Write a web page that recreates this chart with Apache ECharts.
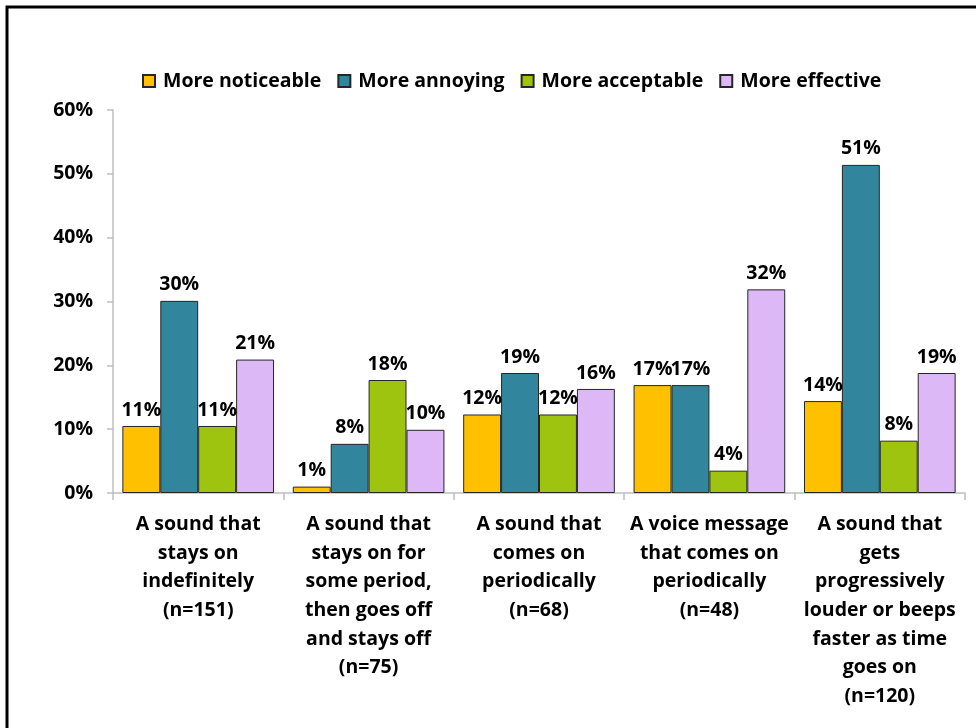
<!DOCTYPE html>
<html>
<head>
<meta charset="utf-8">
<script src="https://cdn.jsdelivr.net/npm/echarts@6/dist/echarts.min.js"></script>
<style>
  html, body { margin: 0; padding: 0; background: #fff; }
  #chart { width: 976px; height: 728px; }
</style>
</head>
<body>
<div id="chart"></div>
<script>
// Alert sound types and how respondents rated each one
const categories = [
  'A sound that\nstays on\nindefinitely\n(n=151)',
  'A sound that\nstays on for\nsome period,\nthen goes off\nand stays off\n(n=75)',
  'A sound that\ncomes on\nperiodically\n(n=68)',
  'A voice message\nthat comes on\nperiodically\n(n=48)',
  'A sound that\ngets\nprogressively\nlouder or beeps\nfaster as time\ngoes on\n(n=120)'
];

const seriesNames = ['More noticeable', 'More annoying', 'More acceptable', 'More effective'];

// Percent of respondents
const moreNoticeable = [10.5, 1.0, 12.3, 16.9, 14.4];
const moreAnnoying   = [30.1, 7.7, 18.8, 16.9, 51.4];
const moreAcceptable = [10.5, 17.7, 12.3, 3.5, 8.2];
const moreEffective  = [20.9, 9.9, 16.3, 31.9, 18.8];

const yTicks = { min: 0, max: 60, interval: 10 };

const colors = ['#FFC000', '#31859C', '#9FC40F', '#DCB9F6'];
const FONT = '"Open Sans", "Noto Sans", sans-serif';

const values = [moreNoticeable, moreAnnoying, moreAcceptable, moreEffective];

const chart = echarts.init(document.getElementById('chart'));

chart.setOption({
  animation: false,
  color: colors,
  textStyle: { fontFamily: FONT },
  graphic: [{
    type: 'rect',
    shape: { x: 7, y: 7, width: 1000, height: 800 },
    style: { fill: 'none', stroke: '#000', lineWidth: 3 },
    z: -1
  }],
  legend: {
    left: 137,
    top: 66,
    itemWidth: 12,
    itemHeight: 12,
    itemGap: 16,
    icon: 'rect',
    textStyle: { fontFamily: FONT, fontWeight: 'bold', fontSize: 19.5, color: '#000', padding: [0, 0, 0, 3] },
    data: seriesNames
  },
  grid: { left: 113, right: 11, top: 110, bottom: 235, containLabel: false },
  xAxis: {
    type: 'category',
    data: categories,
    axisLine: { lineStyle: { color: '#BFBFBF', width: 1.5 } },
    axisTick: { show: true, length: 7, lineStyle: { color: '#BFBFBF', width: 1.5 } },
    axisLabel: {
      interval: 0,
      margin: 17,
      color: '#000',
      fontFamily: FONT,
      fontWeight: 'bold',
      fontSize: 19.5,
      lineHeight: 28.7
    }
  },
  yAxis: {
    type: 'value',
    min: yTicks.min,
    max: yTicks.max,
    interval: yTicks.interval,
    splitLine: { show: false },
    axisLine: { show: true, lineStyle: { color: '#BFBFBF', width: 1.5 } },
    axisTick: { show: true, length: 6, lineStyle: { color: '#BFBFBF', width: 1.5 } },
    axisLabel: {
      margin: 20,
      color: '#000',
      fontFamily: FONT,
      fontWeight: 'bold',
      fontSize: 19.5,
      formatter: '{value}%'
    }
  },
  series: seriesNames.map((name, i) => ({
    name: name,
    type: 'bar',
    data: values[i],
    barGap: '0%',
    barCategoryGap: '11%',
    itemStyle: { color: colors[i], borderColor: '#262626', borderWidth: 1 },
    label: {
      show: true,
      position: 'top',
      distance: 6,
      color: '#000',
      fontFamily: FONT,
      fontWeight: 'bold',
      fontSize: 19.5,
      formatter: p => Math.round(p.value) + '%'
    }
  }))
});
</script>
</body>
</html>
